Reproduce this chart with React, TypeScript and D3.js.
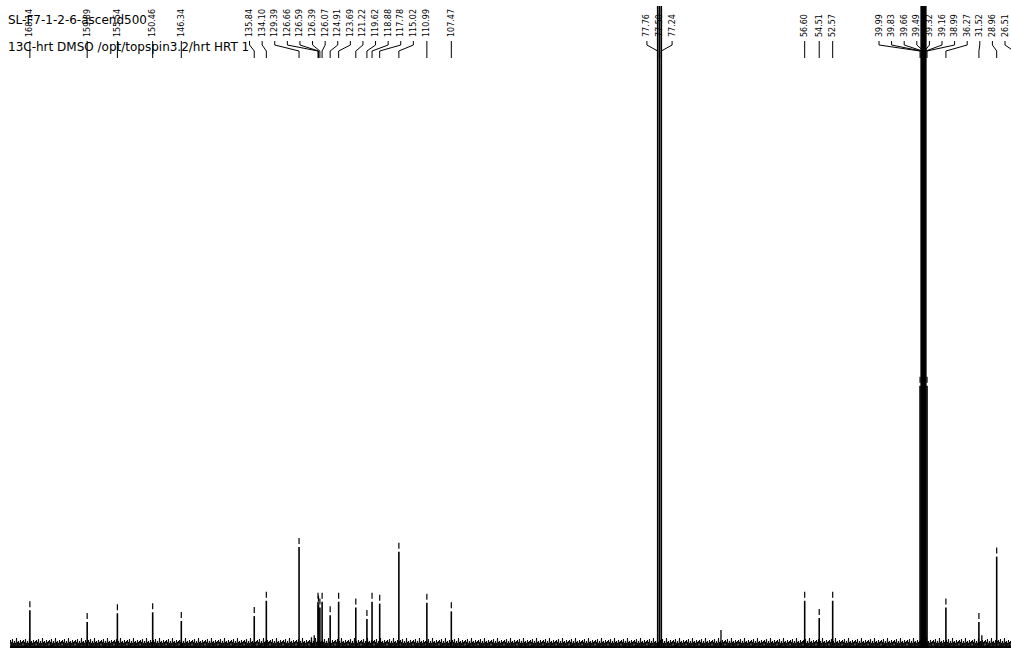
import React from 'react';
import * as d3 from 'd3';

const W = 1011;
const H = 648;

const titleLines = ['SL-F7-1-2-6-ascend500', '13C-hrt DMSO /opt/topspin3.2/hrt HRT 1'];

// displayed ppm window (left -> right)
const ppmWindow = [171.0, 26.9];

// picked peaks (ppm) and their relative intensities (129.39 ppm = 100)
const peakShifts = [
  168.14, 159.89, 155.54, 150.46, 146.34, 135.84, 134.1, 129.39, 126.66, 126.59,
  126.39, 126.07, 124.91, 123.69, 121.22, 119.62, 118.88, 117.78, 115.02, 110.99,
  107.47, 77.76, 77.5, 77.24, 56.6, 54.51, 52.57, 39.99, 39.83, 39.66,
  39.49, 39.32, 39.16, 38.99, 36.27, 31.52, 28.96, 26.51,
];
const peakIntensities = [
  34, 22, 31, 32, 23, 28, 44, 100, 43, 40,
  37, 43, 29, 43, 37, 25, 43, 41, 95, 42,
  33, 900, 950, 900, 44, 26, 44, 268, 800, 1600,
  1900, 1600, 800, 268, 37, 22, 90, 40,
];

// small unpicked signals
const minorShifts = [127.6, 127.2, 68.65, 31.1];
const minorIntensities = [6, 8, 13.5, 8];

function spreadLabels(rawXs: number[], gap: number, minX: number, maxX: number): number[] {
  const xs = rawXs.map((v) => Math.max(minX, Math.min(maxX, v)));
  type C = { idx: number[]; center: number };
  const cs: C[] = xs.map((x, i) => ({ idx: [i], center: x }));
  let merged = true;
  while (merged) {
    merged = false;
    for (let i = 0; i < cs.length - 1; i++) {
      const a = cs[i];
      const b = cs[i + 1];
      const aRight = a.center + ((a.idx.length - 1) / 2) * gap;
      const bLeft = b.center - ((b.idx.length - 1) / 2) * gap;
      if (bLeft - aRight < gap) {
        const idx = a.idx.concat(b.idx);
        const center = d3.mean(idx, (j) => xs[j]) as number;
        cs.splice(i, 2, { idx, center });
        merged = true;
        break;
      }
    }
  }
  const out: number[] = new Array(xs.length);
  cs.forEach((c) => {
    const half = ((c.idx.length - 1) / 2) * gap;
    let center = c.center;
    if (center + half > maxX) center = maxX - half;
    if (center - half < minX) center = minX + half;
    c.idx.forEach((j, k) => {
      out[j] = center + (k - (c.idx.length - 1) / 2) * gap;
    });
  });
  return out;
}

export default function App() {
  const x = d3.scaleLinear().domain(ppmWindow).range([10, W]);
  const y = d3.scaleLinear().domain([0, 100]).range([643, 547]);
  const base = y(0);

  const px = peakShifts.map((s) => x(s));
  const lx = spreadLabels(px, 12.6, 14, W - 6);

  const font = 'DejaVu Sans, Verdana, sans-serif';
  const textBottom = 37;
  const leaderTop = 41;
  const leaderKnee = 45;
  const leaderFoot = 51;
  const leaderEnd = 58;

  return (
    <svg
      width={W}
      height={H}
      style={{ position: 'absolute', left: 0, top: 0, background: '#fff' }}
    >
      <defs>
        <clipPath id="plotClip">
          <rect x={10} y={6} width={W - 10} height={H - 6} />
        </clipPath>
        <pattern id="noise" width={13} height={11} patternUnits="userSpaceOnUse" x={10} y={637}>
          <polyline
            points="0,7 0.5,3 1,10 1.5,5 2,9 2.5,2 3,10 3.5,6 4,9 4.5,4 5,10 5.5,6 6,8 6.5,1 7,10 7.5,5 8,9 8.5,4 9,10 9.5,6 10,8 10.5,3 11,10 11.5,5 12,9 12.5,4 13,7"
            fill="none"
            stroke="#000"
            strokeWidth={0.9}
          />
          <rect x={0} y={8.5} width={13} height={2.5} fill="#000" />
        </pattern>
      </defs>

      <g clipPath="url(#plotClip)">
        <rect x={10} y={637} width={W - 10} height={11} fill="url(#noise)" />
        {minorShifts.map((s, i) => (
          <line
            key={'m' + i}
            x1={x(s)}
            x2={x(s)}
            y1={base + 3}
            y2={y(minorIntensities[i])}
            stroke="#000"
            strokeWidth={1.3}
          />
        ))}
        {peakShifts.map((s, i) => {
          const xp = x(s);
          const tip = y(peakIntensities[i]);
          return (
            <g key={'p' + i}>
              <line x1={xp} x2={xp} y1={base + 4} y2={tip} stroke="#000" strokeWidth={1.6} />
              <line x1={xp} x2={xp} y1={tip - 3} y2={tip - 9} stroke="#000" strokeWidth={1.2} />
            </g>
          );
        })}
      </g>

      <g fill="none" stroke="#000" strokeWidth={1}>
        {peakShifts.map((s, i) => (
          <path
            key={'l' + i}
            d={`M${lx[i]},${leaderTop}V${leaderKnee}L${px[i]},${leaderFoot}V${leaderEnd}`}
          />
        ))}
      </g>

      <g fontFamily={font} fontSize={8} fill="#000">
        {peakShifts.map((s, i) => (
          <text
            key={'t' + i}
            transform={`translate(${lx[i]},${textBottom}) rotate(-90)`}
            dominantBaseline="central"
          >
            {s.toFixed(2)}
          </text>
        ))}
      </g>

      <g fontFamily={font} fontSize={12} fill="#000">
        {titleLines.map((t, i) => (
          <text key={'h' + i} x={8} y={24 + i * 27}>
            {t}
          </text>
        ))}
      </g>
    </svg>
  );
}
